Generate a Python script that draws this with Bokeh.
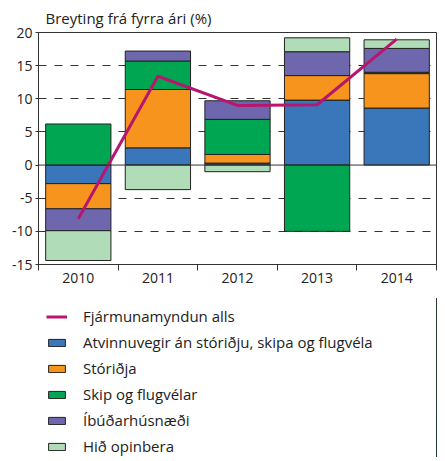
from bokeh.plotting import figure
from bokeh.models import ColumnDataSource, Legend, LegendItem, FixedTicker, Span
from bokeh.layouts import column
from bokeh.embed import file_html
from bokeh.resources import INLINE

years = [2010, 2011, 2012, 2013, 2014]
atvinnuvegir = [-2.8, 2.6, 0.3, 9.8, 8.6]
storidja = [-3.8, 8.8, 1.3, 3.7, 5.2]
skip = [6.2, 4.3, 5.3, -10.0, 0.2]
ibudarhusnaedi = [-3.3, 1.5, 2.8, 3.6, 3.6]
opinbera = [-4.5, -3.7, -1.0, 2.1, 1.3]
alls = [-8.1, 13.4, 9.0, 9.1, 19.0]

series_names = ["Atvinnuvegir án stóriðju, skipa og flugvéla", "Stóriðja",
                "Skip og flugvélar", "Íbúðarhúsnæði", "Hið opinbera"]
series_vals = [atvinnuvegir, storidja, skip, ibudarhusnaedi, opinbera]
colors = ["#3a76ba", "#f7941e", "#00a651", "#6e67ae", "#b1dcb8"]
line_name = "Fjármunamyndun alls"
title_text = "Breyting frá fyrra ári (%)"
y_ticks = [-15, -10, -5, 0, 5, 10, 15, 20]

FONT = "Open Sans"
LINE_COLOR = "#b8156e"
EDGE = "#222222"

p = figure(frame_width=398, frame_height=232, output_backend="svg", toolbar_location=None,
           x_range=(years[0] - 0.5, years[-1] + 0.5), y_range=(-15, 20),
           min_border_left=38, min_border_right=1, min_border_top=0, min_border_bottom=0)

p.title.text = title_text
p.title.text_font = FONT
p.title.text_font_size = "15px"
p.title.text_font_style = "normal"
p.title.text_color = "#222222"
p.title.align = "left"
p.title.offset = 7

# stacking (positives upward, negatives downward)
pos = [0.0] * len(years)
neg = [0.0] * len(years)
sources = []
for name, vals, col in zip(series_names, series_vals, colors):
    bottoms, tops = [], []
    for i, v in enumerate(vals):
        if v >= 0:
            bottoms.append(pos[i]); tops.append(pos[i] + v); pos[i] += v
        else:
            tops.append(neg[i]); bottoms.append(neg[i] + v); neg[i] += v
    src = ColumnDataSource(dict(x=years, bottom=bottoms, top=tops))
    sources.append((src, col))
    p.vbar(x="x", bottom="bottom", top="top", width=0.82, source=src,
           fill_color=col, line_color=EDGE, line_width=1)

zero = Span(location=0, dimension="width", line_color="#333333", line_width=1)
p.add_layout(zero)

line_src = ColumnDataSource(dict(x=years, y=alls))
p.line("x", "y", source=line_src, line_color=LINE_COLOR, line_width=3)

# grid
p.xgrid.visible = False
p.ygrid.ticker = FixedTicker(ticks=[t for t in y_ticks if t not in (0, y_ticks[0], y_ticks[-1])])
p.ygrid.grid_line_color = "#333333"
p.ygrid.grid_line_dash = "8 8"
p.ygrid.grid_line_width = 1

# axes
p.xaxis.ticker = FixedTicker(ticks=years, minor_ticks=[y - 0.5 for y in years] + [years[-1] + 0.5])
p.xaxis.major_tick_line_color = None
p.xaxis.minor_tick_out = 6
p.xaxis.minor_tick_in = 0
p.xaxis.minor_tick_line_color = "#333333"
p.xaxis.axis_line_color = "#333333"
p.xaxis.major_label_text_font = FONT
p.xaxis.major_label_text_font_size = "14px"
p.xaxis.major_label_text_color = "#222222"
p.xaxis.major_label_standoff = 2

p.yaxis.ticker = FixedTicker(ticks=y_ticks)
p.yaxis.major_label_overrides = {t: str(t) for t in y_ticks}
p.yaxis.major_tick_out = 3
p.yaxis.major_tick_in = 0
p.yaxis.minor_tick_line_color = None
p.yaxis.major_tick_line_color = "#333333"
p.yaxis.axis_line_color = "#333333"
p.yaxis.major_label_text_font = FONT
p.yaxis.major_label_text_font_size = "14px"
p.yaxis.major_label_text_color = "#222222"
p.yaxis.major_label_standoff = 3

p.outline_line_color = "#333333"
p.outline_line_width = 1

# legend panel: same data sources, drawn outside its (empty) view so only the legend shows
p2 = figure(width=437, height=172, output_backend="svg", toolbar_location=None,
            min_border_left=38, min_border_top=13, min_border_right=0, min_border_bottom=0,
            x_range=(0, 1), y_range=(0, 1))
p2.axis.visible = False
p2.grid.visible = False
p2.outline_line_color = None
lr2 = p2.line("x", "y", source=line_src, line_color=LINE_COLOR, line_width=3)
items = [LegendItem(label=line_name, renderers=[lr2])]
for name, (src, col) in zip(series_names, sources):
    r2 = p2.vbar(x="x", bottom="bottom", top="top", width=0.82, source=src,
                 fill_color=col, line_color=EDGE, line_width=1)
    items.append(LegendItem(label=name, renderers=[r2]))
legend = Legend(items=items, location="top_left", orientation="vertical",
                border_line_color=None, background_fill_alpha=0,
                label_text_font=FONT, label_text_font_size="15px",
                label_text_color="#222222",
                glyph_width=21, glyph_height=9, label_height=20, spacing=6,
                label_standoff=16, padding=0, margin=8)
p2.add_layout(legend, "center")

open("out.html", "w").write(file_html(column(p, p2, spacing=0), INLINE))
